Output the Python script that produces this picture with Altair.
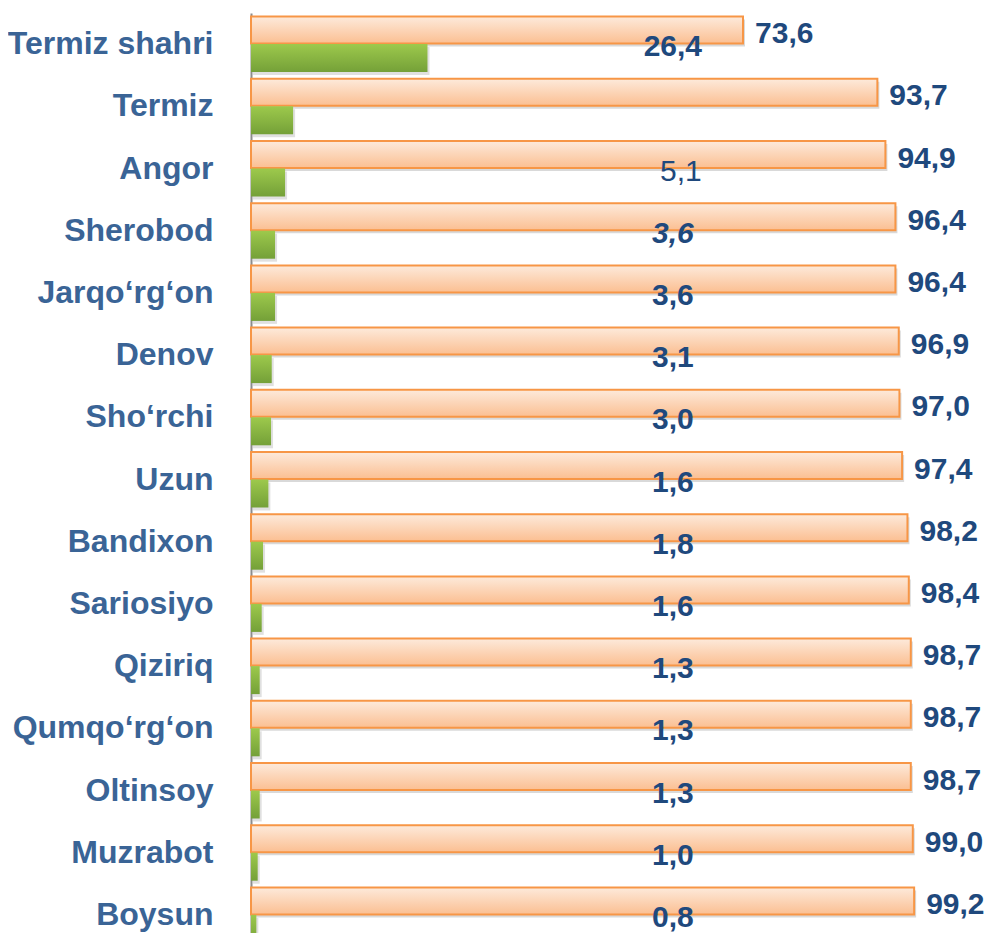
import altair as alt
import pandas as pd

regions = ["Termiz shahri", "Termiz", "Angor", "Sherobod", "Jarqo‘rg‘on", "Denov",
           "Sho‘rchi", "Uzun", "Bandixon", "Sariosiyo", "Qiziriq", "Qumqo‘rg‘on",
           "Oltinsoy", "Muzrabot", "Boysun"]
orange_values = [73.6, 93.7, 94.9, 96.4, 96.4, 96.9, 97.0, 97.4, 98.2, 98.4, 98.7, 98.7, 98.7, 99.0, 99.2]
green_values = [26.4, 6.3, 5.1, 3.6, 3.6, 3.1, 3.0, 2.6, 1.8, 1.6, 1.3, 1.3, 1.3, 1.0, 0.8]
green_labels = ["26,4", "", "5,1", "3,6", "3,6", "3,1", "3,0", "1,6", "1,8", "1,6",
                "1,3", "1,3", "1,3", "1,0", "0,8"]

orange_df = pd.DataFrame({
    "region": regions,
    "value": orange_values,
    "label": [f"{v:.1f}".replace(".", ",") for v in orange_values],
})
green_df = pd.DataFrame({
    "region": regions,
    "value": green_values,
    "label": green_labels,
})

FONT = "Liberation Sans"
NAVY = "#1f497d"

x_enc = alt.X("value:Q", scale=alt.Scale(domain=[0, 109.8], nice=False, zero=True), axis=None)
y_enc = alt.Y(
    "region:N", sort=regions,
    scale=alt.Scale(range=[0, 933], paddingInner=0, paddingOuter=0),
    axis=alt.Axis(title=None, labelFont=FONT, labelFontSize=32, labelFontWeight="bold",
                  labelColor="#3a6496", labelPadding=38, ticks=False, labelLimit=0,
                  domainColor="#8c8c8c", domainWidth=2, grid=False),
)

orange_grad = alt.Gradient(
    gradient="linear",
    stops=[alt.GradientStop(color="#fdeadb", offset=0),
           alt.GradientStop(color="#fbbf92", offset=1)],
    x1=0, x2=0, y1=0, y2=1,
)
green_grad = alt.Gradient(
    gradient="linear",
    stops=[alt.GradientStop(color="#9dc94c", offset=0),
           alt.GradientStop(color="#74a038", offset=1)],
    x1=0, x2=0, y1=0, y2=1,
)

base_o = alt.Chart(orange_df)
base_g = alt.Chart(green_df)

orange_shadow = base_o.mark_bar(size=27, yOffset=-11, xOffset=2, color="#000000", opacity=0.15).encode(x=x_enc, y=y_enc)
orange_bar = base_o.mark_bar(size=27, yOffset=-14, fill=orange_grad, stroke="#f79646", strokeWidth=2).encode(x=x_enc, y=y_enc)
green_shadow = base_g.mark_bar(size=28, yOffset=17, xOffset=2, color="#000000", opacity=0.12).encode(x=x_enc, y=y_enc)
green_bar = base_g.mark_bar(size=28, yOffset=14, fill=green_grad).encode(x=x_enc, y=y_enc)

orange_text = base_o.mark_text(
    align="left", baseline="middle", dx=12, yOffset=-10,
    font=FONT, fontSize=30, fontWeight="bold", color=NAVY,
).encode(x=x_enc, y=y_enc, text="label:N")

green_text_bold = base_g.transform_filter(
    "datum.region != 'Angor' && datum.region != 'Sherobod'"
).mark_text(
    align="center", baseline="middle", yOffset=3,
    font=FONT, fontSize=30, fontWeight="bold", color=NAVY,
).encode(x=alt.datum(63.1), y=y_enc, text="label:N")

green_text_normal = base_g.transform_filter("datum.region == 'Angor'").mark_text(
    align="center", baseline="middle", yOffset=3,
    font=FONT, fontSize=30, fontWeight="normal", color=NAVY,
).encode(x=alt.datum(64.3), y=y_enc, text="label:N")

green_text_italic = base_g.transform_filter("datum.region == 'Sherobod'").mark_text(
    align="center", baseline="middle", yOffset=3,
    font=FONT, fontSize=30, fontWeight="bold", fontStyle="italic", color=NAVY,
).encode(x=alt.datum(63.1), y=y_enc, text="label:N")

chart = alt.layer(
    orange_shadow, green_shadow, orange_bar, green_bar,
    orange_text, green_text_bold, green_text_normal, green_text_italic,
).properties(
    width=734, height=920,
    autosize=alt.AutoSizeParams(type="none"),
    padding={"left": 243, "top": 5, "right": 0, "bottom": 0},
    background="white",
).configure_view(stroke=None)

chart.save("out.html", embed_options={"renderer": "svg", "actions": False})
